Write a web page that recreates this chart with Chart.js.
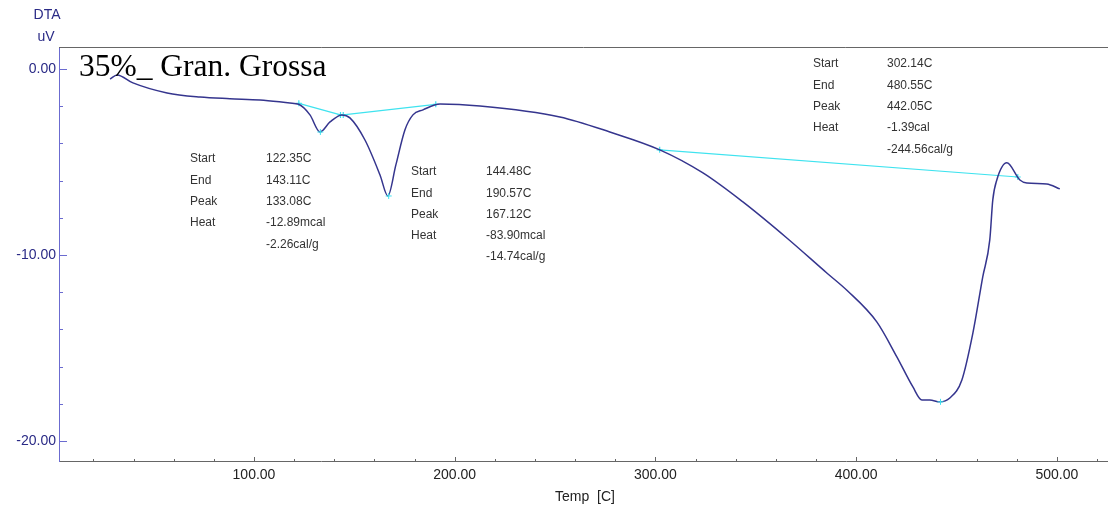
<!DOCTYPE html>
<html>
<head>
<meta charset="utf-8">
<script src="https://cdn.jsdelivr.net/npm/chart.js@4"></script>
<style>
  html, body { margin: 0; padding: 0; background: #fff; overflow: hidden; }
  #wrap { width: 1108px; height: 508px; position: relative; overflow: hidden; }
  #wrap canvas { display: block; }
</style>
</head>
<body>
<div id="wrap"><canvas id="dta"></canvas></div>
<script>
// DTA curve (temp C, uV)
const tempC = [28.3, 31.8, 39.7, 56.7, 73.1, 88, 103.0, 117.9, 122.3, 127.9, 132.9, 137.9, 143.8,
  147.8, 155.3, 162.8, 166.7, 170.7, 175.2, 179.2, 184.2, 192.7, 212.6, 252.4, 277.3, 302.2,
  323.7, 343.6, 365.5, 385.4, 395.4, 410.3, 420.3, 428.3, 432.8, 436.7, 441.7, 446.7,
  452.7, 458.2, 463.1, 466.6, 468.1, 470.1, 475.1, 481.6, 485.1, 495.0, 501.5];
const dtaUV = [-0.54, -0.32, -0.75, -1.29, -1.51, -1.6, -1.67, -1.83, -1.9, -2.47, -3.39, -2.85, -2.47,
  -2.63, -3.82, -5.70, -6.83, -5.16, -3.28, -2.47, -2.20, -1.88, -1.99, -2.58, -3.39, -4.35,
  -5.59, -7.15, -9.09, -10.97, -11.9, -13.60, -15.48, -17.10, -17.80, -17.80, -17.90, -17.69,
  -16.72, -14.19, -11.18, -9.19, -7.04, -5.97, -5.05, -5.97, -6.13, -6.18, -6.45];

// peak baselines (start/end temperature and signal)
const base1X = [122.35, 143.11];
const base1Y = [-1.85, -2.47];
const base2X = [144.48, 190.57];
const base2Y = [-2.47, -1.90];
const base3X = [302.14, 480.55];
const base3Y = [-4.35, -5.81];
const peakX = [133.08, 167.12, 442.05];
const peakY = [-3.39, -6.83, -17.90];

// annotation blocks
const labelRows = ['Start', 'End', 'Peak', 'Heat', ''];
const peak1Text = ['122.35C', '143.11C', '133.08C', '-12.89mcal', '-2.26cal/g'];
const peak2Text = ['144.48C', '190.57C', '167.12C', '-83.90mcal', '-14.74cal/g'];
const peak3Text = ['302.14C', '480.55C', '442.05C', '-1.39cal', '-244.56cal/g'];

const xTicks = [100, 200, 300, 400, 500];
const yTicks = [0, -10, -20];

const toPts = (xs, ys) => xs.map((x, i) => ({ x: x, y: ys[i] }));

const CYAN = '#3fe3ef';
const NAVY = '#35358e';

// draw tick marks pointing into the plot, texts, and top border
const decor = {
  id: 'decor',
  afterDraw(chart) {
    const ctx = chart.ctx;
    const a = chart.chartArea;
    const xs = chart.scales.x, ys = chart.scales.y;
    ctx.save();
    // top border
    ctx.strokeStyle = '#666';
    ctx.lineWidth = 1;
    ctx.beginPath();
    ctx.moveTo(a.left, a.top + 0.5);
    ctx.lineTo(a.right, a.top + 0.5);
    ctx.stroke();
    // x ticks
    ctx.strokeStyle = '#666';
    for (let v = 20; v <= 520; v += 20) {
      const px = Math.round(xs.getPixelForValue(v)) + 0.5;
      const len = v % 100 === 0 ? 4 : 2;
      ctx.beginPath();
      ctx.moveTo(px, a.bottom);
      ctx.lineTo(px, a.bottom - len);
      ctx.stroke();
    }
    // y ticks
    ctx.strokeStyle = '#6b6bd0';
    for (let v = 0; v >= -20; v -= 2) {
      const py = Math.round(ys.getPixelForValue(v)) + 0.5;
      const len = v % 10 === 0 ? 8 : 4;
      ctx.beginPath();
      ctx.moveTo(a.left, py);
      ctx.lineTo(a.left + len, py);
      ctx.stroke();
    }
    // axis titles
    ctx.fillStyle = '#2a2a86';
    ctx.font = '14px "Liberation Sans", Arial, sans-serif';
    ctx.textAlign = 'center';
    ctx.textBaseline = 'middle';
    ctx.fillText('DTA', 47, 15);
    ctx.fillText('uV', 46, 37);
    ctx.fillStyle = '#222';
    ctx.fillText('Temp  [C]', 585, 497);
    // sample name
    ctx.fillStyle = '#000';
    ctx.font = '31.5px "Liberation Serif", "Times New Roman", serif';
    ctx.textAlign = 'left';
    ctx.textBaseline = 'alphabetic';
    ctx.fillText('35%_ Gran. Grossa', 79, 76);
    // peak tables
    ctx.font = '12px "Liberation Sans", Arial, sans-serif';
    ctx.fillStyle = '#333';
    ctx.textBaseline = 'middle';
    const block = (lx, vx, y0, step, vals) => {
      labelRows.forEach((t, i) => { if (t) ctx.fillText(t, lx, y0 + i * step); });
      vals.forEach((t, i) => ctx.fillText(t, vx, y0 + i * step));
    };
    block(190, 266, 159, 21.3, peak1Text);
    block(411, 486, 172, 21.2, peak2Text);
    block(813, 887, 64, 21.3, peak3Text);
    ctx.restore();
  }
};

new Chart(document.getElementById('dta'), {
  type: 'scatter',
  data: {
    datasets: [
      {
        data: toPts(tempC, dtaUV),
        showLine: true,
        borderColor: NAVY,
        borderWidth: 1.5,
        pointRadius: 0,
        cubicInterpolationMode: 'monotone',
        order: 1
      },
      {
        data: toPts(base1X, base1Y),
        showLine: true, borderColor: CYAN, borderWidth: 1.2,
        pointStyle: 'cross', pointRadius: 3, pointBorderColor: CYAN, order: 2
      },
      {
        data: toPts(base2X, base2Y),
        showLine: true, borderColor: CYAN, borderWidth: 1.2,
        pointStyle: 'cross', pointRadius: 3, pointBorderColor: CYAN, order: 2
      },
      {
        data: toPts(base3X, base3Y),
        showLine: true, borderColor: CYAN, borderWidth: 1.2,
        pointStyle: 'cross', pointRadius: 3, pointBorderColor: CYAN, order: 2
      },
      {
        data: toPts(peakX, peakY),
        showLine: false,
        pointStyle: 'cross', pointRadius: 3, pointBorderColor: CYAN, order: 0
      }
    ]
  },
  options: {
    responsive: true,
    maintainAspectRatio: false,
    animation: false,
    layout: { autoPadding: false, padding: { left: 0, top: 47, right: 0, bottom: 0 } },
    plugins: { legend: { display: false }, tooltip: { enabled: false } },
    scales: {
      x: {
        type: 'linear',
        min: 2.86,
        max: 525.5,
        afterBuildTicks: (s) => { s.ticks = xTicks.map(v => ({ value: v })); },
        afterFit: (s) => { s.height = 47; s.paddingRight = 0; s.paddingLeft = 0; },
        grid: { display: false, drawTicks: false, tickLength: 0 },
        border: { display: true, color: '#666', width: 1 },
        ticks: {
          padding: 6,
          color: '#222',
          font: { family: '"Liberation Sans", Arial, sans-serif', size: 14 },
          maxRotation: 0,
          callback: (v) => v.toFixed(2)
        }
      },
      y: {
        min: -21.08,
        max: 1.18,
        afterBuildTicks: (s) => { s.ticks = yTicks.map(v => ({ value: v })); },
        afterFit: (s) => { s.width = 59; s.paddingTop = 0; s.paddingBottom = 0; },
        grid: { display: false, drawTicks: false, tickLength: 0 },
        border: { display: true, color: '#6b6bd0', width: 1 },
        ticks: {
          padding: 3,
          color: '#2a2a86',
          font: { family: '"Liberation Sans", Arial, sans-serif', size: 14 },
          callback: (v) => v.toFixed(2)
        }
      }
    }
  },
  plugins: [decor]
});
</script>
</body>
</html>
